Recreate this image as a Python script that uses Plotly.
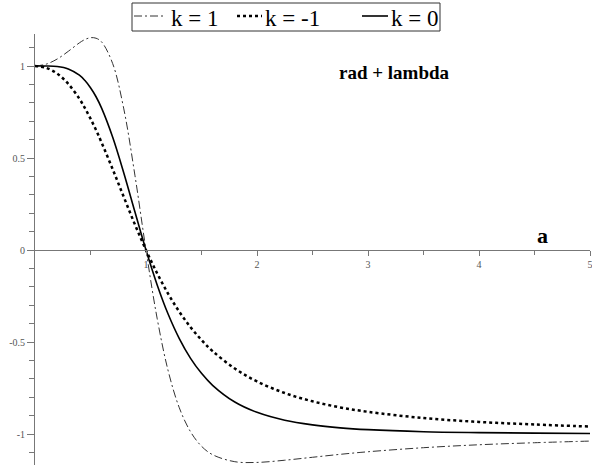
import plotly.graph_objects as go

# ===== DATA =====
a_vals = [0, 0.1, 0.2, 0.3, 0.4, 0.45, 0.5, 0.55, 0.6, 0.7, 0.8, 0.9, 1.0, 1.1, 1.2, 1.3,
          1.4, 1.5, 1.6, 1.8, 2.0, 2.25, 2.5, 2.75, 3.0, 3.5, 4.0, 4.5, 5.0]

q_k_pos = [1.0, 1.010, 1.038, 1.080, 1.126, 1.144, 1.154, 1.151, 1.131, 1.013, 0.767, 0.407, 0.0,
           -0.370, -0.657, -0.857, -0.986, -1.066, -1.112, -1.150, -1.154, -1.142, -1.126,
           -1.110, -1.096, -1.074, -1.058, -1.047, -1.038]

q_k_neg = [1.0, 0.990, 0.959, 0.903, 0.822, 0.771, 0.714, 0.652, 0.584, 0.439, 0.288, 0.139, 0.0,
           -0.126, -0.238, -0.335, -0.418, -0.489, -0.549, -0.644, -0.714, -0.777, -0.822,
           -0.855, -0.879, -0.913, -0.934, -0.948, -0.959]

q_k_zero = [1.0, 1.0, 0.997, 0.984, 0.950, 0.921, 0.882, 0.833, 0.771, 0.613, 0.419, 0.208, 0.0,
            -0.188, -0.349, -0.481, -0.587, -0.670, -0.735, -0.826, -0.882, -0.925, -0.950,
            -0.966, -0.976, -0.987, -0.992, -0.995, -0.997]

legend_names = ["k = 1", "k = -1", "k = 0"]

serif = "Liberation Serif, Times New Roman, serif"
W, H = 592, 465
L, R, T, B = 35, 2, 34, 0


def px_x(x):  # window pixel -> paper fraction
    return (x - L) / (W - L - R)


def px_y(y):
    return 1 - (y - T) / (H - T - B)


styles = [
    dict(color="#333333", width=1, dash="8px,3px,2px,3px"),
    dict(color="black", width=2.5, dash="dot"),
    dict(color="black", width=1.6),
]

fig = go.Figure()
for name, ys, st in zip(legend_names, [q_k_pos, q_k_neg, q_k_zero], styles):
    fig.add_trace(go.Scatter(x=a_vals, y=ys, mode="lines", name=name, line_shape="spline",
                             line=st, showlegend=False))

y_lo, y_hi = -1.168, 1.174

fig.update_layout(
    width=W, height=H,
    margin=dict(l=L, r=R, t=T, b=B, autoexpand=False),
    plot_bgcolor="white", paper_bgcolor="white",
    font=dict(family=serif, color="black"),
    xaxis=dict(range=[0, 5], anchor="free", position=(0 - y_lo) / (y_hi - y_lo),
               showgrid=False, zeroline=False, showline=True, linecolor="#777777", linewidth=1,
               ticks="outside", ticklen=5, tickcolor="#777777", tickvals=[1, 2, 3, 4, 5],
               ticklabeloverflow="allow",
               tickfont=dict(size=10, color="#555555", family=serif),
               minor=dict(tickvals=[0.5, 1.5, 2.5, 3.5, 4.5], ticks="outside", ticklen=4,
                          tickcolor="#777777")),
    yaxis=dict(range=[y_lo, y_hi], showgrid=False, zeroline=False, showline=True,
               linecolor="#777777", linewidth=1, ticks="outside", ticklen=7, tickcolor="#777777",
               tickvals=[-1, -0.5, 0, 0.5, 1], ticktext=["-1", "-0.5", "0", "0.5", "1"],
               tickfont=dict(size=10, color="#555555", family=serif),
               minor=dict(dtick=0.1, ticks="outside", ticklen=5, tickcolor="#777777")),
)

# ===== hand-built legend box (Maple style) =====
fig.add_shape(type="rect", xref="paper", yref="paper", x0=px_x(132), x1=px_x(440),
              y0=px_y(31), y1=px_y(3), line=dict(color="#333333", width=1))
sample_x = [(134, 166), (237, 262), (362, 388)]
text_x = [169, 263, 389]
for name, st, (sx0, sx1), tx in zip(legend_names, styles, sample_x, text_x):
    fig.add_shape(type="line", xref="paper", yref="paper", x0=px_x(sx0), x1=px_x(sx1),
                  y0=px_y(16), y1=px_y(16), line=st)
    fig.add_annotation(text=name, xref="paper", yref="paper", x=px_x(tx), y=px_y(18),
                       xanchor="left", yanchor="middle", showarrow=False,
                       font=dict(size=23, family=serif))

fig.add_annotation(text="<b>q</b>", x=-0.1, y=1.11, showarrow=False,
                   font=dict(size=22, family=serif))
fig.add_annotation(text="<b>a</b>", x=4.57, y=0.08, showarrow=False,
                   font=dict(size=22, family=serif))
fig.add_annotation(text="<b>rad + lambda</b>", x=3.24, y=0.965, showarrow=False,
                   font=dict(size=19, family=serif))

# drop the default page margin so the figure sits at the window corner
fig.write_html("out.html", config={"displayModeBar": False},
               post_script="document.body.style.margin='0';")
